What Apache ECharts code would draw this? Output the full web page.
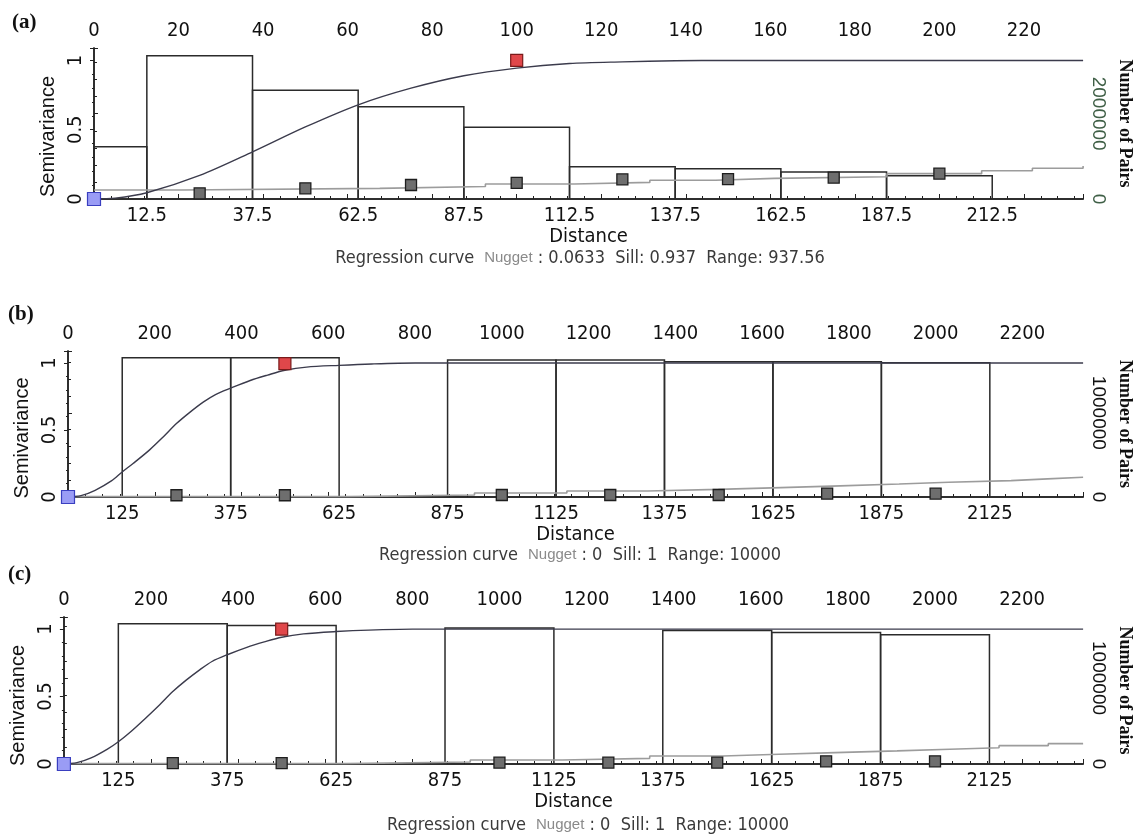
<!DOCTYPE html>
<html>
<head>
<meta charset="utf-8">
<script src="https://cdn.jsdelivr.net/npm/echarts@6/dist/echarts.min.js"></script>
<style>
html,body{margin:0;padding:0;background:#fff;}
#chart{width:1142px;height:835px;}
</style>
</head>
<body>
<div id="chart"></div>
<script>
// ---------------- Panel (a) ----------------
const binStartA = [0, 12.5, 37.5, 62.5, 87.5, 112.5, 137.5, 162.5, 187.5];
const binEndA   = [12.5, 37.5, 62.5, 87.5, 112.5, 137.5, 162.5, 187.5, 212.5];
const pairsA    = [1226000, 3360000, 2549000, 2164000, 1681000, 757000, 710000, 633000, 546000];
const lagA      = [25, 50, 75, 100, 125, 150, 175, 200];
const semivarA  = [0.041, 0.077, 0.101, 0.116, 0.142, 0.144, 0.154, 0.183];
const modelXA   = [0, 5, 12.5, 25, 37.5, 50, 62.5, 75, 87.5, 100, 112.5, 125, 137.5, 150, 234];
const modelYA   = [0, 0.006, 0.045, 0.17, 0.34, 0.52, 0.68, 0.8, 0.89, 0.945, 0.978, 0.99, 0.998, 1.0, 1.0];
const regXA     = [0, 20.8, 67.6, 92.6, 113.6, 131.5, 147, 161, 187.6, 210, 222, 234];
const regYA     = [0.065, 0.077, 0.09, 0.108, 0.12, 0.135, 0.149, 0.161, 0.183, 0.204, 0.222, 0.238];
const rangePtA  = [100, 1.0];
const originPtA = [0, 0];
const topLabelsA    = ['0','20','40','60','80','100','120','140','160','180','200','220'];
const bottomLabelsA = ['12.5','37.5','62.5','87.5','112.5','137.5','162.5','187.5','212.5'];
const pairLabelsA   = ['0','2000000'];
const regTextA = ['Regression curve', 'Nugget', ' : 0.0633  Sill: 0.937  Range: 937.56'];

// ---------------- Panel (b) ----------------
const binStartB = [125, 375, 875, 1125, 1375, 1625, 1875];
const binEndB   = [375, 625, 1125, 1375, 1625, 1875, 2125];
const pairsB    = [1655000, 1655000, 1628000, 1628000, 1608000, 1608000, 1594000];
const lagB      = [250, 500, 1000, 1250, 1500, 1750, 2000];
const semivarB  = [0.013, 0.013, 0.015, 0.015, 0.015, 0.025, 0.025];
const modelXB   = [0, 30, 62.5, 100, 125, 150, 187.5, 220, 250, 280, 312.5, 340, 375, 420, 460, 500, 550, 625, 700, 800, 2340];
const modelYB   = [0, 0.01, 0.05, 0.12, 0.187, 0.25, 0.35, 0.45, 0.548, 0.63, 0.71, 0.765, 0.813, 0.87, 0.91, 0.946, 0.97, 0.983, 0.993, 1.0, 1.0];
const regXB     = [0, 650, 937, 1150, 1336, 1499, 1643, 1780, 1916, 2030, 2174, 2258, 2340];
const regYB     = [0.003, 0.015, 0.03, 0.045, 0.057, 0.07, 0.083, 0.097, 0.11, 0.122, 0.135, 0.148, 0.152];
const rangePtB  = [500, 0.995];
const originPtB = [0, 0];
const topLabelsB    = ['0','200','400','600','800','1000','1200','1400','1600','1800','2000','2200'];
const bottomLabelsB = ['125','375','625','875','1125','1375','1625','1875','2125'];
const pairLabelsB   = ['0','1000000'];
const regTextB = ['Regression curve', 'Nugget', ' : 0  Sill: 1  Range: 10000'];

// ---------------- Panel (c) ----------------
const binStartC = [125, 375, 875, 1375, 1625, 1875];
const binEndC   = [375, 625, 1125, 1625, 1875, 2125];
const pairsC    = [1632000, 1612000, 1582000, 1554000, 1530000, 1503000];
const lagC      = [250, 500, 1000, 1250, 1500, 1750, 2000];
const semivarC  = [0.007, 0.007, 0.01, 0.01, 0.01, 0.02, 0.02];
const modelXC   = [0, 30, 62.5, 100, 125, 150, 187.5, 220, 250, 280, 312.5, 340, 375, 420, 460, 500, 550, 625, 700, 800, 2340];
const modelYC   = [0, 0.01, 0.045, 0.11, 0.165, 0.23, 0.34, 0.44, 0.537, 0.62, 0.7, 0.76, 0.81, 0.865, 0.905, 0.94, 0.965, 0.982, 0.993, 1.0, 1.0];
const regXC     = [0, 650, 933, 1144, 1345, 1513, 1642, 1770, 1913, 2034, 2147, 2260, 2340];
const regYC     = [0.003, 0.015, 0.03, 0.042, 0.059, 0.072, 0.084, 0.097, 0.109, 0.121, 0.136, 0.151, 0.153];
const rangePtC  = [500, 1.0];
const originPtC = [0, 0];
const topLabelsC    = ['0','200','400','600','800','1000','1200','1400','1600','1800','2000','2200'];
const bottomLabelsC = ['125','375','625','875','1125','1375','1625','1875','2125'];
const pairLabelsC   = ['0','1000000'];
const regTextC = ['Regression curve', 'Nugget', ' : 0  Sill: 1  Range: 10000'];

const semivarLabels = ['0','0.5','1'];
const panelTags = ['(a)', '(b)', '(c)'];

// ---------------- layout / style (not data) ----------------
const NARROW = "'Liberation Sans Narrow','Arial Narrow','DejaVu Sans Condensed',sans-serif";
const SANS = "'Liberation Sans',Arial,sans-serif";
const SERIF = "'Liberation Serif','Times New Roman',serif";

const layouts = [
  {left: 94, right: 48, top: 48, height: 151, xMax: 234, xInt: 20, binInt: 12.5, pMax: 3540000, pInt: 2000000, pColor: '#3f5f46', tagPos: [12, 12], regPos: [580, 249], semiPad: 26},
  {left: 68, right: 45, top: 351, height: 146, xMax: 2340, xInt: 200, binInt: 125, pMax: 1735000, pInt: 1000000, pColor: '#111', tagPos: [8, 304], regPos: [580, 546], semiPad: 28},
  {left: 61, right: 47, top: 617, height: 147, xMax: 2340, xInt: 200, binInt: 125, pMax: 1710000, pInt: 1000000, pColor: '#111', tagPos: [8, 564], regPos: [588, 816], semiPad: 30}
];

const panels = [
  {bs: binStartA, be: binEndA, pairs: pairsA, lag: lagA, sv: semivarA, mx: modelXA, my: modelYA, rx: regXA, ry: regYA, rp: rangePtA, op: originPtA, tl: topLabelsA, bl: bottomLabelsA, pl: pairLabelsA, rt: regTextA},
  {bs: binStartB, be: binEndB, pairs: pairsB, lag: lagB, sv: semivarB, mx: modelXB, my: modelYB, rx: regXB, ry: regYB, rp: rangePtB, op: originPtB, tl: topLabelsB, bl: bottomLabelsB, pl: pairLabelsB, rt: regTextB},
  {bs: binStartC, be: binEndC, pairs: pairsC, lag: lagC, sv: semivarC, mx: modelXC, my: modelYC, rx: regXC, ry: regYC, rp: rangePtC, op: originPtC, tl: topLabelsC, bl: bottomLabelsC, pl: pairLabelsC, rt: regTextC}
];

function fmtOnly(list) {
  return function (v) {
    const s = String(Math.round(v * 1000) / 1000);
    return list.indexOf(s) >= 0 ? s : '';
  };
}

function barRender(params, api) {
  const x0 = api.value(0), x1 = api.value(1), v = api.value(2);
  const pTop0 = api.coord([x0, v]);
  const pBot1 = api.coord([x1, 0]);
  return {
    type: 'polyline',
    shape: {points: [[pTop0[0], pBot1[1]], [pTop0[0], pTop0[1]], [pBot1[0], pTop0[1]], [pBot1[0], pBot1[1]]]},
    style: {stroke: '#2b2b2b', fill: null, lineWidth: 1.5}
  };
}

const grid = [], xAxis = [], yAxis = [], series = [], title = [];
const axisLine = {show: true, lineStyle: {color: '#222', width: 1.5}};

panels.forEach(function (p, i) {
  const L = layouts[i];
  grid.push({left: L.left, right: L.right, top: L.top, height: L.height, containLabel: false});
  xAxis.push({
    type: 'value', gridIndex: i, position: 'top', min: 0, max: L.xMax, interval: L.xInt,
    axisLine: axisLine, splitLine: {show: false},
    axisTick: {show: true, inside: false, length: 5, lineStyle: {color: '#222'}},
    minorTick: {show: true, splitNumber: 5, length: 3, lineStyle: {color: '#222'}},
    axisLabel: {show: true, margin: 7, color: '#111', fontFamily: NARROW, fontSize: 20, formatter: fmtOnly(p.tl)}
  });
  xAxis.push({
    type: 'value', gridIndex: i, position: 'bottom', min: 0, max: L.xMax, interval: L.binInt,
    name: 'Distance', nameLocation: 'middle', nameGap: 27,
    nameTextStyle: {color: '#111', fontFamily: NARROW, fontSize: 20},
    axisLine: axisLine, splitLine: {show: false}, axisTick: {show: false},
    axisLabel: {show: true, margin: 7, color: '#111', fontFamily: NARROW, fontSize: 20, formatter: fmtOnly(p.bl)}
  });
  yAxis.push({
    type: 'value', gridIndex: i, position: 'left', min: 0, max: 1.09, interval: 0.5,
    name: 'Semivariance', nameLocation: 'middle', nameRotate: 90, nameGap: 28,
    nameTextStyle: {color: '#111', fontFamily: SANS, fontSize: 20, padding: [0, L.semiPad, 0, 0]},
    axisLine: axisLine, splitLine: {show: false},
    axisTick: {show: true, length: 4, lineStyle: {color: '#222'}},
    minorTick: {show: true, splitNumber: 5, length: 2, lineStyle: {color: '#222'}},
    axisLabel: {show: true, rotate: 90, margin: 8, color: '#111', fontFamily: NARROW, fontSize: 20, formatter: fmtOnly(semivarLabels)}
  });
  yAxis.push({
    type: 'value', gridIndex: i, position: 'right', min: 0, max: L.pMax, interval: L.pInt,
    name: 'Number of Pairs', nameLocation: 'middle', nameRotate: -90, nameGap: 31,
    nameTextStyle: {color: '#111', fontFamily: SERIF, fontWeight: 'bold', fontSize: 18},
    axisLine: axisLine, splitLine: {show: false},
    axisTick: {show: true, length: 4, lineStyle: {color: '#222'}},
    minorTick: {show: true, splitNumber: 5, length: 3, lineStyle: {color: '#222'}},
    axisLabel: {show: true, rotate: -90, margin: 6, color: L.pColor, fontFamily: SANS, fontSize: 19, formatter: fmtOnly(p.pl)}
  });

  const xb = 2 * i + 1, yl = 2 * i, yr = 2 * i + 1;
  series.push({
    type: 'custom', xAxisIndex: xb, yAxisIndex: yr, renderItem: barRender, z: 1, silent: true,
    encode: {x: [0, 1], y: 2},
    data: p.bs.map(function (s, k) { return [s, p.be[k], p.pairs[k]]; })
  });
  series.push({
    type: 'line', xAxisIndex: xb, yAxisIndex: yl, step: 'end', showSymbol: false, z: 2,
    lineStyle: {color: '#9c9c9c', width: 1.6},
    data: p.rx.map(function (x, k) { return [x, p.ry[k]]; })
  });
  series.push({
    type: 'line', xAxisIndex: xb, yAxisIndex: yl, smooth: 0.3, showSymbol: false, z: 3,
    lineStyle: {color: '#3b3b4c', width: 1.4},
    data: p.mx.map(function (x, k) { return [x, p.my[k]]; })
  });
  series.push({
    type: 'scatter', xAxisIndex: xb, yAxisIndex: yl, symbol: 'rect', symbolSize: 11, z: 5,
    itemStyle: {color: '#6e6e6e', borderColor: '#1e1e1e', borderWidth: 1.3, opacity: 1},
    data: p.lag.map(function (x, k) { return [x, p.sv[k]]; })
  });
  series.push({
    type: 'scatter', xAxisIndex: xb, yAxisIndex: yl, symbol: 'rect', symbolSize: 12, z: 6,
    itemStyle: {color: '#e0474a', borderColor: '#7a1a1a', borderWidth: 1.2, opacity: 1},
    data: [p.rp]
  });
  series.push({
    type: 'scatter', xAxisIndex: xb, yAxisIndex: yl, symbol: 'rect', symbolSize: 13, z: 6,
    itemStyle: {color: '#9a9cf5', borderColor: '#3a3fc0', borderWidth: 1.2, opacity: 1},
    data: [p.op]
  });

  title.push({
    text: panelTags[i], left: L.tagPos[0], top: L.tagPos[1], padding: 0,
    textStyle: {fontFamily: SERIF, fontWeight: 'bold', fontSize: 21, color: '#111'}
  });
  title.push({
    text: '{a|' + p.rt[0] + '}  {b|' + p.rt[1] + '}{c|' + p.rt[2] + '}',
    left: L.regPos[0], top: L.regPos[1], textAlign: 'center', padding: 0,
    textStyle: {
      fontWeight: 'normal',
      rich: {
        a: {fontFamily: NARROW, fontSize: 18, fontWeight: 'normal', color: '#3a3a3a'},
        b: {fontFamily: SANS, fontSize: 15, fontWeight: 'normal', color: '#8a8a8a'},
        c: {fontFamily: NARROW, fontSize: 18, fontWeight: 'normal', color: '#3a3a3a'}
      }
    }
  });
});

const chart = echarts.init(document.getElementById('chart'), null, {renderer: 'canvas'});
chart.setOption({
  animation: false,
  backgroundColor: '#fff',
  title: title,
  grid: grid,
  xAxis: xAxis,
  yAxis: yAxis,
  series: series
});
</script>
</body>
</html>
